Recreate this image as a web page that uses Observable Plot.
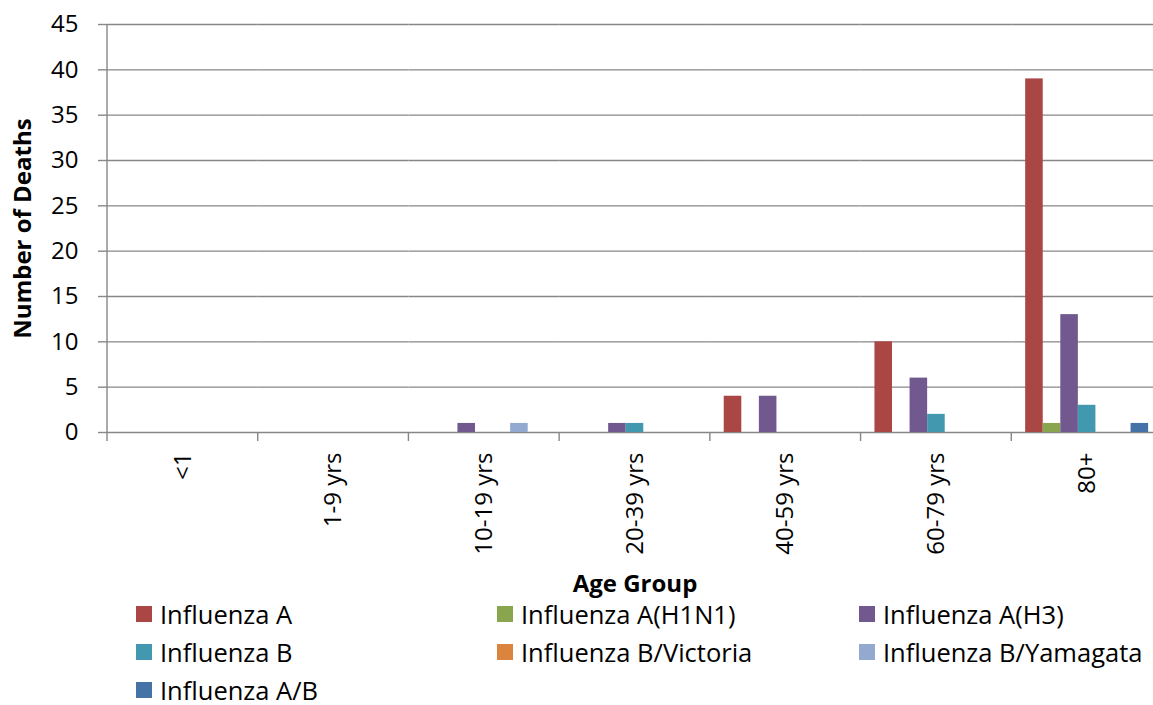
<!DOCTYPE html>
<html>
<head>
<meta charset="utf-8">
<script src="https://cdn.jsdelivr.net/npm/d3@7"></script>
<script src="https://cdn.jsdelivr.net/npm/@observablehq/plot@0.6"></script>
<style>
  html, body { margin: 0; padding: 0; background: #fff; overflow: hidden; }
  #wrap { position: relative; width: 1163px; height: 705px; font-family: "Open Sans", sans-serif; }
  #wrap g[aria-label="fx-axis label"] text, #wrap g[aria-label="y-axis label"] text { font-weight: bold; }
  #legend { position: absolute; left: 136px; top: 595px; display: grid;
            grid-template-columns: 361px 362px auto; grid-auto-rows: 38px; }
  .item { display: flex; align-items: center; font-size: 25.5px; color: #000; white-space: nowrap; line-height: 22px; }
  .sw { width: 16px; height: 16px; margin-right: 8px; flex: none; position: relative; top: 0px; }
</style>
</head>
<body>
<div id="wrap"></div>
<script>
const categories = ["<1", "1-9 yrs", "10-19 yrs", "20-39 yrs", "40-59 yrs", "60-79 yrs", "80+"];
const series = ["Influenza A", "Influenza A(H1N1)", "Influenza A(H3)", "Influenza B",
                "Influenza B/Victoria", "Influenza B/Yamagata", "Influenza A/B"];
const colors = ["#AA4643", "#89A54E", "#71588F", "#4198AF", "#DB843D", "#93A9CF", "#4572A7"];

const influenzaA        = [0, 0, 0, 0, 4, 10, 39];
const influenzaH1N1     = [0, 0, 0, 0, 0, 0, 1];
const influenzaH3       = [0, 0, 1, 1, 4, 6, 13];
const influenzaB        = [0, 0, 0, 1, 0, 2, 3];
const influenzaVictoria = [0, 0, 0, 0, 0, 0, 0];
const influenzaYamagata = [0, 0, 1, 0, 0, 0, 0];
const influenzaAB       = [0, 0, 0, 0, 0, 0, 1];

const yTicks = [0, 5, 10, 15, 20, 25, 30, 35, 40, 45];

const seriesValues = [influenzaA, influenzaH1N1, influenzaH3, influenzaB,
                      influenzaVictoria, influenzaYamagata, influenzaAB];
const rows = [];
categories.forEach((c, i) => series.forEach((s, j) => rows.push({category: c, series: s, value: seriesValues[j][i]})));

const gridColor = "#878787";

const chart = Plot.plot({
  width: 1163,
  height: 610,
  marginLeft: 107,
  marginRight: 1,
  marginTop: 24,
  marginBottom: 178,
  style: {fontFamily: "'Open Sans', sans-serif", fontSize: "24px", color: "#000", background: "#fff"},
  fx: {domain: categories, padding: 0, round: false},
  x: {domain: series, paddingInner: 0, paddingOuter: 0.79, axis: null, round: false},
  y: {domain: [0, 45]},
  color: {domain: series, range: colors},
  marks: [
    Plot.gridY(yTicks, {stroke: gridColor, strokeOpacity: 1, strokeWidth: 1.4}),
    Plot.barY(rows, {fx: "category", x: "series", y: "value", fill: "series"}),
    Plot.axisY(yTicks, {tickSize: 9, tickPadding: 20, stroke: gridColor, strokeOpacity: 1, strokeWidth: 1.4,
      label: "Number of Deaths", labelAnchor: "center", labelOffset: 94, labelArrow: "none", fontSize: 24}),
    Plot.axisFx({anchor: "bottom", tickSize: 0, tickRotate: -90, tickPadding: 20, fontSize: 24,
      label: "Age Group", labelAnchor: "center", labelOffset: 159, labelArrow: "none"})
  ]
});

document.getElementById("wrap").appendChild(chart);

// category boundary ticks and left axis line, from Plot's own scales
const fx = chart.scale("fx");
const ys = chart.scale("y");
const step = fx.step ?? fx.bandwidth;
const edges = categories.map(c => fx.apply(c)).concat([fx.apply(categories[categories.length - 1]) + step]);
const y0 = ys.apply(0), yTop = ys.apply(45);
const g = d3.select(chart).append("g").attr("stroke", gridColor).attr("stroke-width", 1.4);
g.selectAll("line.edge").data(edges).join("line")
  .attr("x1", d => d).attr("x2", d => d)
  .attr("y1", (d, i) => i === 0 ? yTop : y0).attr("y2", y0 + 9);

// legend
const legend = d3.select("#wrap").append("div").attr("id", "legend");
const items = legend.selectAll("div.item").data(series).join("div").attr("class", "item");
items.append("span").attr("class", "sw").style("background", (d, i) => colors[i]);
items.append("span").text(d => d);
</script>
</body>
</html>
